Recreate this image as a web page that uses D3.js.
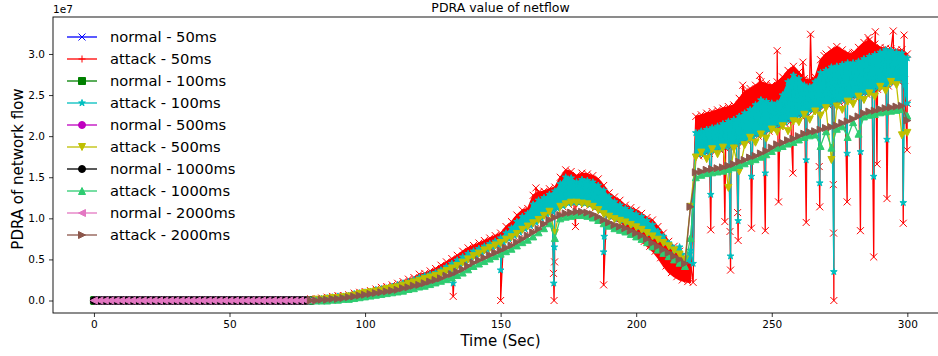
<!DOCTYPE html>
<html>
<head>
<meta charset="utf-8">
<script src="https://cdn.jsdelivr.net/npm/d3@7"></script>
<style>
  body { margin: 0; background: #fff; }
  svg { display: block; font-family: "DejaVu Sans", sans-serif; }
</style>
</head>
<body>
<div id="main"></div>
<script>
// values are in units of 1e7 (the offset label of the y axis)

// normal traffic: flat zero for 0..80 s, sampled at each window length
const normalEnd = 80;
const normalSteps = [0.05, 0.1, 0.5, 1, 2];
const normalLevel = 0;

// attack traffic: 80..300 s, one reading every 2 s (t = 80, 82, ... 300)
const attackStart = 80;
const attackStep = 2;

const attack2000 = [
  0.00,0.00,0.01,0.01,0.02,0.02,0.03,0.04,0.05,0.06,
  0.07,0.08,0.09,0.10,0.11,0.12,0.13,0.15,0.16,0.18,
  0.19,0.21,0.23,0.25,0.27,0.30,0.32,0.35,0.38,0.42,
  0.46,0.49,0.52,0.55,0.58,0.61,0.64,0.67,0.71,0.75,
  0.79,0.83,0.87,0.93,0.98,1.01,1.04,1.06,1.07,1.08,
  1.08,1.07,1.05,1.02,0.98,0.95,0.92,0.90,0.88,0.85,
  0.82,0.79,0.75,0.70,0.66,0.62,0.58,0.54,0.50,0.45,
  1.14,1.56,1.57,1.59,1.60,1.61,1.62,1.64,1.66,1.69,
  1.71,1.74,1.76,1.79,1.82,1.86,1.90,1.92,1.95,1.97,
  2.00,2.03,2.05,2.06,2.08,2.10,2.11,2.13,2.16,2.18,
  2.21,2.24,2.28,2.30,2.31,2.33,2.34,2.35,2.36,2.37,
  2.19
];

const attack1000 = [
  0.00,0.00,0.00,0.00,0.01,0.01,0.02,0.02,0.03,0.04,
  0.05,0.06,0.07,0.08,0.09,0.10,0.11,0.12,0.14,0.15,
  0.17,0.18,0.20,0.22,0.24,0.26,0.28,0.31,0.34,0.38,
  0.42,0.45,0.48,0.51,0.54,0.57,0.60,0.63,0.67,0.71,
  0.74,0.78,0.83,0.88,0.94,0.76,1.00,1.02,1.03,1.04,
  1.04,1.03,1.01,0.98,0.94,0.91,0.88,0.86,0.84,0.81,
  0.78,0.75,0.71,0.66,0.62,0.58,0.54,0.50,0.46,0.42,
  0.76,1.50,1.53,1.55,1.56,1.57,1.58,1.60,1.62,1.65,
  1.67,1.70,1.72,1.75,1.78,1.82,1.86,1.88,1.91,1.93,
  1.96,1.99,2.01,2.02,1.88,2.06,1.86,2.09,2.12,1.99,
  2.17,2.03,2.24,2.26,2.27,2.29,2.30,2.31,2.32,2.33,
  2.25
];

const attack500 = [
  0.00,0.01,0.01,0.02,0.03,0.03,0.04,0.05,0.06,0.08,
  0.09,0.10,0.11,0.12,0.14,0.15,0.16,0.18,0.20,0.22,
  0.24,0.26,0.28,0.30,0.33,0.36,0.39,0.42,0.46,0.50,
  0.54,0.57,0.61,0.64,0.67,0.70,0.74,0.77,0.81,0.86,
  0.90,0.94,0.98,1.03,1.08,0.82,1.14,1.17,1.19,1.19,
  1.18,1.17,1.14,1.10,1.05,1.02,0.99,0.97,0.95,0.92,
  0.89,0.86,0.82,0.78,0.74,0.70,0.66,0.61,0.56,0.50,
  1.14,1.74,1.80,1.72,1.84,1.78,1.86,1.37,1.85,1.57,
  1.89,1.98,1.92,2.02,1.97,2.08,2.05,2.12,2.06,2.18,
  2.17,2.26,2.20,2.30,2.25,2.34,1.71,2.36,2.32,2.42,
  2.39,2.48,2.44,2.52,2.48,2.60,2.55,2.66,2.62,2.01,
  2.04
];

// the 100 ms and 50 ms windows are very noisy: their samples fill a band,
// read here as its upper and lower edge every 2 s, plus the single
// samples that shoot far out of the band
const attack100High = [
  0.01,0.01,0.02,0.03,0.04,0.05,0.05,0.06,0.08,0.09,
  0.10,0.11,0.13,0.14,0.15,0.17,0.19,0.21,0.23,0.25,
  0.28,0.30,0.32,0.34,0.37,0.41,0.45,0.49,0.53,0.57,
  0.60,0.63,0.66,0.69,0.72,0.76,0.82,0.88,0.96,1.02,
  1.06,1.17,1.22,1.25,1.29,1.33,1.42,1.50,1.49,1.44,
  1.47,1.46,1.44,1.40,1.34,1.26,1.20,1.16,1.12,1.09,
  1.05,1.02,0.97,0.92,0.84,0.78,0.70,0.62,0.65,0.48,
  0.61,2.04,2.06,2.08,2.10,2.12,2.15,2.18,2.20,2.24,
  2.28,2.32,2.38,2.44,2.42,2.40,2.40,2.50,2.66,2.74,
  2.70,2.62,2.60,2.66,2.77,2.80,2.84,2.85,2.87,2.89,
  2.89,2.91,2.94,2.97,2.99,3.02,3.05,3.04,3.02,3.01,
  2.95
];
const attack100Low = [
  0.00,0.01,0.01,0.02,0.03,0.04,0.05,0.06,0.07,0.08,
  0.09,0.10,0.12,0.13,0.14,0.16,0.17,0.18,0.20,0.22,
  0.24,0.26,0.28,0.31,0.34,0.37,0.40,0.43,0.47,0.51,
  0.55,0.58,0.62,0.65,0.68,0.71,0.75,0.79,0.83,0.87,
  0.91,0.95,1.00,1.05,1.09,1.12,1.15,1.18,1.19,1.19,
  1.18,1.17,1.14,1.10,1.06,1.02,0.99,0.97,0.95,0.92,
  0.89,0.86,0.82,0.78,0.74,0.70,0.66,0.61,0.56,0.50,
  0.45,1.78,1.79,1.81,1.83,1.85,1.87,1.89,1.91,1.93,
  1.96,1.99,2.02,2.05,2.08,2.11,2.14,2.17,2.20,2.23,
  2.26,2.29,2.32,2.35,2.37,2.39,2.41,2.43,2.45,2.47,
  2.49,2.51,2.53,2.56,2.59,2.61,2.63,2.66,2.68,2.70,
  2.40
];
const attack100Outliers = [
  [132.5,0.21],[150,0.37],[169.6,0.21],[169.8,0.65],[188,0.59],[188.2,0.78],
  [227.5,1.29],[234.8,0.54],[237.6,0.97],[242.5,1.51],[247.6,1.55],[262.7,1.71],
  [267.7,1.43],[272.9,0.35],[277.8,1.79],[282.7,1.81],[287.6,1.51],[292.5,1.96],
  [298.5,1.19]
];

const attack50High = [
  0.02,0.02,0.03,0.04,0.05,0.06,0.06,0.07,0.09,0.10,
  0.11,0.12,0.14,0.16,0.17,0.19,0.21,0.23,0.26,0.28,
  0.32,0.33,0.36,0.39,0.43,0.47,0.51,0.55,0.60,0.64,
  0.67,0.70,0.73,0.76,0.79,0.82,0.90,0.96,1.04,1.10,
  1.12,1.28,1.32,1.33,1.36,1.38,1.50,1.59,1.57,1.52,
  1.55,1.54,1.52,1.48,1.40,1.31,1.26,1.22,1.16,1.13,
  1.10,1.06,1.01,0.98,0.90,0.82,0.72,0.66,0.60,0.50,
  0.45,2.24,2.26,2.28,2.30,2.32,2.34,2.36,2.38,2.46,
  2.54,2.58,2.62,2.66,2.64,2.62,2.66,2.72,2.80,2.85,
  2.78,2.70,2.68,2.72,2.93,3.00,3.05,3.09,3.05,3.01,
  3.01,3.08,3.14,3.17,3.12,3.08,3.07,3.06,3.05,3.05,
  3.00
];
const attack50Low = [
  0.00,0.00,0.01,0.01,0.02,0.03,0.03,0.04,0.05,0.06,
  0.08,0.09,0.10,0.11,0.13,0.14,0.15,0.17,0.19,0.21,
  0.23,0.25,0.27,0.30,0.33,0.36,0.39,0.42,0.46,0.50,
  0.54,0.57,0.61,0.64,0.67,0.70,0.74,0.78,0.82,0.86,
  0.90,0.94,0.99,1.04,1.08,1.11,1.14,1.17,1.18,1.18,
  1.17,1.16,1.13,1.09,1.05,1.01,0.98,0.95,0.91,0.86,
  0.80,0.72,0.66,0.60,0.52,0.42,0.34,0.29,0.25,0.23,
  0.22,1.76,1.77,1.79,1.81,1.83,1.85,1.87,1.89,1.91,
  1.94,1.97,2.00,2.03,2.06,2.09,2.12,2.15,2.18,2.21,
  2.24,2.27,2.30,2.33,2.35,2.37,2.39,2.41,2.43,2.45,
  2.47,2.49,2.51,2.54,2.57,2.59,2.61,2.64,2.66,2.68,
  2.40
];
const attack50Outliers = [
  [132.5,0.05],[150,0.0],[163,1.37],[169.5,0.33],[169.7,0.0],[169.9,0.47],
  [177.6,0.90],[188,0.19],[227.5,0.86],[232.7,0.96],[234.6,0.84],[234.8,0.37],
  [237.4,1.07],[237.6,0.73],[239.3,2.62],[242.5,0.88],[245.5,2.74],[247.6,0.85],
  [252,3.04],[252.5,1.20],[257.8,1.55],[261.5,2.90],[262.7,0.95],[264.3,3.24],
  [267.5,1.63],[267.7,1.14],[269.3,2.98],[272.7,1.41],[272.8,0.82],[272.9,0.0],
  [277.8,1.20],[280.5,3.02],[282.7,0.85],[285.5,3.20],[287.6,0.53],[288.2,3.27],
  [288.8,1.66],[292.5,1.24],[294.8,3.28],[298.5,0.94],[298.8,3.23],[299.9,1.83]
];

const xTicks = [0, 50, 100, 150, 200, 250, 300];
const yTicks = [0, 0.5, 1.0, 1.5, 2.0, 2.5, 3.0];

const ctx = {
  w: 938,
  h: 356,
  left: 53,
  top: 17,
  right: 948,   // right spine falls just outside the picture
  bottom: 313,
  markerSize: 7,
  lineWidth: 1.3,
};

// --- build the point lists --------------------------------------------
function normalPoints(step){
  const n = Math.round(normalEnd / step);
  return d3.range(n + 1).map(i => [i * step, normalLevel]);
}
function gridPoints(vals){
  return vals.map((v, i) => [attackStart + attackStep * i, v]);
}
// zig-zag through the band edges, with the outliers slotted in by time
function noisyPoints(high, low, outliers){
  const n = high.length;
  const pts = [];
  high.forEach(function(v, i){
    const t = attackStart + attackStep * i;
    pts.push([t, v]);
    pts.push([i < n - 1 ? t + 1 : t, low[i]]);
  });
  return pts.concat(outliers).sort((a, b) => a[0] - b[0]);
}
function bandRows(high, low){
  return high.map((v, i) => ({t: attackStart + attackStep * i, hi: v, lo: low[i]}));
}

const series = [
  {name: "normal - 50ms",   color: "#0000ff", marker: "x", pts: normalPoints(normalSteps[0])},
  {name: "attack - 50ms",   color: "#ff0000", marker: "x", legendMarker: "+",
   band: bandRows(attack50High, attack50Low), pts: noisyPoints(attack50High, attack50Low, attack50Outliers)},
  {name: "normal - 100ms",  color: "#008000", marker: "s", pts: normalPoints(normalSteps[1])},
  {name: "attack - 100ms",  color: "#00bfbf", marker: "*",
   band: bandRows(attack100High, attack100Low), pts: noisyPoints(attack100High, attack100Low, attack100Outliers)},
  {name: "normal - 500ms",  color: "#bf00bf", marker: "o", pts: normalPoints(normalSteps[2])},
  {name: "attack - 500ms",  color: "#bfbf00", marker: "v", pts: gridPoints(attack500)},
  {name: "normal - 1000ms", color: "#000000", marker: "o", pts: normalPoints(normalSteps[3])},
  {name: "attack - 1000ms", color: "#2ecc71", marker: "^", pts: gridPoints(attack1000)},
  {name: "normal - 2000ms", color: "#e377c2", marker: "<", pts: normalPoints(normalSteps[4])},
  {name: "attack - 2000ms", color: "#8c564b", marker: ">", pts: gridPoints(attack2000)},
];

// --- marker shapes (matplotlib-like) ------------------------------------
function markerPath(type, s){
  const r = s / 2;
  switch(type){
    case "x": return `M${-r},${-r}L${r},${r}M${-r},${r}L${r},${-r}`;
    case "+": return `M${-r},0L${r},0M0,${-r}L0,${r}`;
    case "s": return `M${-r},${-r}H${r}V${r}H${-r}Z`;
    case "o": return `M${r},0A${r},${r} 0 1,1 ${-r},0A${r},${r} 0 1,1 ${r},0Z`;
    case "v": return `M0,${r}L${-r},${-r}L${r},${-r}Z`;
    case "^": return `M0,${-r}L${-r},${r}L${r},${r}Z`;
    case "<": return `M${-r},0L${r},${-r}L${r},${r}Z`;
    case ">": return `M${r},0L${-r},${-r}L${-r},${r}Z`;
    case "*": {
      const inner = r * 0.381966;
      let p = "";
      for (let k = 0; k < 10; k++){
        const rad = k % 2 === 0 ? r : inner;
        const a = -Math.PI / 2 + k * Math.PI / 5;
        p += (k === 0 ? "M" : "L") + (rad * Math.cos(a)).toFixed(2) + "," + (rad * Math.sin(a)).toFixed(2);
      }
      return p + "Z";
    }
  }
}
const strokeOnly = new Set(["x", "+"]);

// --- draw ---------------------------------------------------------------
const svg = d3.select("#main").append("svg")
  .attr("width", ctx.w)
  .attr("height", ctx.h);

const x = d3.scaleLinear().domain([-15.1, 315]).range([ctx.left, ctx.right]);
const y = d3.scaleLinear().domain([-0.152, 3.45]).range([ctx.bottom, ctx.top]);

svg.append("defs").append("clipPath").attr("id", "plotClip")
  .append("rect")
  .attr("x", ctx.left).attr("y", ctx.top)
  .attr("width", ctx.right - ctx.left).attr("height", ctx.bottom - ctx.top);

const plot = svg.append("g").attr("clip-path", "url(#plotClip)");
const line = d3.line().x(d => x(d[0])).y(d => y(d[1]));
const band = d3.area().x(d => x(d.t)).y0(d => y(d.lo)).y1(d => y(d.hi));

series.forEach(function(s){
  const g = plot.append("g");
  if (s.band){
    // dense samples read as a solid band
    g.append("path")
      .datum(s.band)
      .attr("d", band)
      .attr("fill", s.color)
      .attr("stroke", s.color)
      .attr("stroke-width", ctx.lineWidth)
      .attr("stroke-linejoin", "round");
  }
  g.append("path")
    .datum(s.pts)
    .attr("d", line)
    .attr("fill", "none")
    .attr("stroke", s.color)
    .attr("stroke-width", ctx.lineWidth)
    .attr("stroke-linejoin", "round");
  const shape = markerPath(s.marker, ctx.markerSize);
  g.selectAll("path.mk")
    .data(s.pts)
    .join("path")
    .attr("class", "mk")
    .attr("d", shape)
    .attr("transform", d => `translate(${x(d[0])},${y(d[1])})`)
    .attr("fill", strokeOnly.has(s.marker) ? "none" : s.color)
    .attr("stroke", s.color)
    .attr("stroke-width", 1);
});

// axes
const xAxis = d3.axisBottom(x).tickValues(xTicks).tickSize(4).tickPadding(4)
  .tickFormat(d3.format("d"));
const yAxis = d3.axisLeft(y).tickValues(yTicks).tickSize(4).tickPadding(4)
  .tickFormat(d3.format(".1f"));

const gx = svg.append("g").attr("transform", `translate(0,${ctx.bottom})`).call(xAxis);
const gy = svg.append("g").attr("transform", `translate(${ctx.left},0)`).call(yAxis);
[gx, gy].forEach(function(g){
  g.select(".domain").remove();
  g.selectAll("text").attr("font-size", 10.5).attr("font-family", "DejaVu Sans").attr("fill", "#000");
  g.selectAll("line").attr("stroke", "#000").attr("stroke-width", 0.8);
});

// spines
svg.append("rect")
  .attr("x", ctx.left).attr("y", ctx.top)
  .attr("width", ctx.right - ctx.left).attr("height", ctx.bottom - ctx.top)
  .attr("fill", "none").attr("stroke", "#000").attr("stroke-width", 0.9);

// offset text, title, labels
svg.append("text").attr("x", ctx.left).attr("y", 13)
  .attr("font-size", 10.5).text("1e7");
svg.append("text").attr("x", (ctx.left + ctx.right) / 2).attr("y", 12)
  .attr("text-anchor", "middle").attr("font-size", 12.5).text("PDRA value of netflow");
svg.append("text").attr("x", (ctx.left + ctx.right) / 2).attr("y", 346)
  .attr("text-anchor", "middle").attr("font-size", 15).text("Time (Sec)");
svg.append("text")
  .attr("transform", `translate(23,169) rotate(-90)`)
  .attr("text-anchor", "middle").attr("font-size", 15).text("PDRA of network flow");

// legend (no frame)
const legend = svg.append("g").attr("transform", "translate(67,37)");
const rows = legend.selectAll("g").data(series).join("g")
  .attr("transform", (d, i) => `translate(0,${i * 22})`);
rows.append("line")
  .attr("x1", 0).attr("x2", 30).attr("y1", 0).attr("y2", 0)
  .attr("stroke", d => d.color).attr("stroke-width", ctx.lineWidth);
rows.append("path")
  .attr("d", d => markerPath(d.legendMarker || d.marker, ctx.markerSize))
  .attr("transform", "translate(15,0)")
  .attr("fill", d => strokeOnly.has(d.legendMarker || d.marker) ? "none" : d.color)
  .attr("stroke", d => d.color).attr("stroke-width", 1);
rows.append("text")
  .attr("x", 43).attr("y", 0).attr("dy", "0.35em")
  .attr("font-size", 14.7).text(d => d.name);
</script>
</body>
</html>
